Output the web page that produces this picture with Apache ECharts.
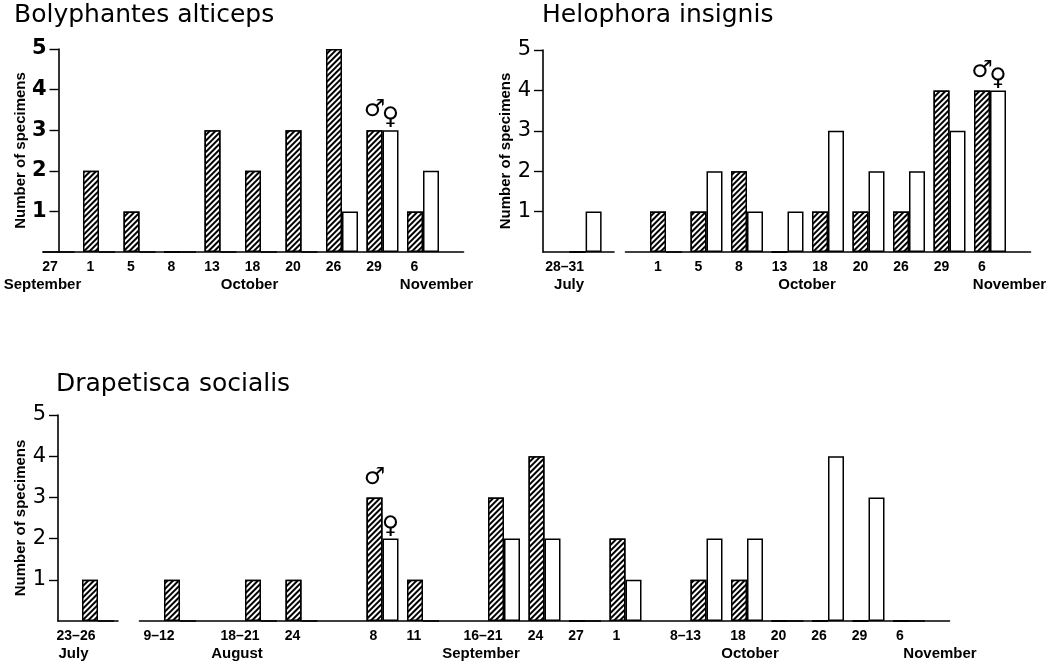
<!DOCTYPE html>
<html><head><meta charset="utf-8">
<script src="https://cdn.jsdelivr.net/npm/echarts@6/dist/echarts.min.js"></script>
<style>html,body{margin:0;padding:0;background:#fff}#c{width:1056px;height:667px}</style>
</head><body><div id="c"></div>
<script>
// ---------------- DATA ----------------
const yTicks = [1, 2, 3, 4, 5];
const yName = "Number of specimens";
const titles = ["Bolyphantes alticeps", "Helophora insignis", "Drapetisca socialis"];

// Bolyphantes alticeps
const bolyDays    = ["27", "1", "5", "8", "13", "18", "20", "26", "29", "6"];
const bolyMonths  = ["September", "", "", "", "", "October", "", "", "", "November"];
const bolyMales   = [0, 2, 1, 0, 3, 2, 3, 5, 3, 1];
const bolyFemales = [0, 0, 0, 0, 0, 0, 0, 1, 3, 2];
const bolySexMark = 8;

// Helophora insignis
const heloJulDays    = ["28–31"];
const heloJulMonths  = ["July"];
const heloJulMales   = [0];
const heloJulFemales = [1];
const heloDays    = ["1", "5", "8", "13", "18", "20", "26", "29", "6"];
const heloMonths  = ["", "", "", "", "October", "", "", "", "November"];
const heloMales   = [1, 1, 2, 0, 1, 1, 1, 4, 4];
const heloFemales = [0, 2, 1, 1, 3, 2, 2, 3, 4];
const heloSexMark = 8;

// Drapetisca socialis
const drapJulDays    = ["23–26"];
const drapJulMonths  = ["July"];
const drapJulMales   = [1];
const drapJulFemales = [0];
const drapDays    = ["9–12", "", "18–21", "24", "", "8", "11", "", "16–21", "24", "27", "1", "", "8–13", "18", "20", "26", "29", "6"];
const drapMonths  = ["", "", "August", "", "", "", "", "", "September", "", "", "", "", "", "October", "", "", "", "November"];
const drapMales   = [1, null, 1, 1, null, 3, 1, null, 3, 4, 0, 2, null, 1, 1, 0, 0, 0, 0];
const drapFemales = [0, null, 0, 0, null, 2, 0, null, 2, 2, 0, 1, null, 2, 2, 0, 4, 3, 0];
const drapSexMark = 5;

// ---------------- STYLE / LAYOUT ----------------
const FONT = 'Liberation Sans';
const hatch = { symbol: 'rect', symbolSize: 1, dashArrayX: [1, 0], dashArrayY: [2, 2],
                rotation: -Math.PI / 4, color: '#000', backgroundColor: '#fff' };

const grids = [], xAxes = [], yAxes = [], series = [];

function pad(arr, before, after, fill) {
  return Array(before).fill(fill).concat(arr, Array(after).fill(fill));
}
function shiftPad(s) { return s < 0 ? [0, -2 * s, 0, 0] : [0, 0, 0, 2 * s]; }

function addGrid(g, days, months, males, females, sexMark, o) {
  const gi = grids.length;
  grids.push({ left: g.left, top: g.top, width: g.width, height: g.height });
  const cats = pad(days, o.before, o.after, '');
  const mons = pad(months, o.before, o.after, '');
  const dayFont = { fontFamily: FONT, fontSize: 14, fontWeight: 'bold', color: '#000' };
  const xi = xAxes.length;
  xAxes.push({
    type: 'category', gridIndex: gi, data: cats, boundaryGap: false, position: 'bottom',
    axisLine: { show: true, onZero: false, lineStyle: { color: '#000', width: 1.6 } },
    axisTick: { show: false }, splitLine: { show: false },
    axisLabel: Object.assign({ interval: 0, margin: 8,
      formatter: v => v ? (v.indexOf('–') >= 0 ? '{r|' + v + '}' : '{d|' + v + '}') : '',
      rich: { d: Object.assign({ padding: shiftPad(o.dayShift) }, dayFont),
              r: Object.assign({ padding: shiftPad(o.rangeShift) }, dayFont) } }, dayFont)
  });
  const monFont = { fontFamily: FONT, fontSize: 15, fontWeight: 'bold', color: '#000' };
  const monRich = {};
  Object.keys(o.monthShift).forEach(k => { monRich[k] = Object.assign({ padding: shiftPad(o.monthShift[k]) }, monFont); });
  xAxes.push({
    type: 'category', gridIndex: gi, data: mons, boundaryGap: false, position: 'bottom',
    axisLine: { show: false, onZero: false }, axisTick: { show: false }, splitLine: { show: false },
    axisLabel: Object.assign({ interval: 0, margin: 25,
      formatter: v => v ? '{' + v + '|' + v + '}' : '', rich: monRich }, monFont)
  });
  yAxes.push({
    type: 'value', gridIndex: gi, min: 0, max: 5, interval: 1, show: o.showY,
    name: o.showY ? yName : '', nameLocation: 'middle', nameGap: 30,
    nameTextStyle: { fontFamily: FONT, fontSize: 15, fontWeight: 'bold', color: '#000' },
    axisLine: { show: true, lineStyle: { color: '#000', width: 1.6 } },
    axisTick: { show: true, length: 9, customValues: yTicks, lineStyle: { color: '#000', width: 1.4 } },
    splitLine: { show: false },
    axisLabel: { customValues: yTicks, margin: 12, fontFamily: 'DejaVu Sans', fontSize: 21,
                 fontWeight: o.yWeight, color: '#000' }
  });
  const markLabel = (sym, dist) => ({ show: true, formatter: sym, position: 'top', distance: dist,
      fontFamily: 'DejaVu Sans', fontSize: 24, color: '#000' });
  const mData = pad(males, o.before, o.after, null).map((v, i) =>
      (sexMark !== null && i === sexMark + o.before) ? { value: v, label: markLabel('♂', 8) } : v);
  const fData = pad(females, o.before, o.after, null).map((v, i) =>
      (sexMark !== null && i === sexMark + o.before) ? { value: v, label: markLabel('♀', 0) } : v);
  const base = { type: 'bar', xAxisIndex: xi, yAxisIndex: gi, barWidth: 16, barGap: '0%', silent: true };
  series.push(Object.assign({ name: 'male', data: mData,
    itemStyle: { color: '#fff', borderColor: '#000', borderWidth: 1.5, decal: hatch } }, base));
  series.push(Object.assign({ name: 'female', data: fData,
    itemStyle: { color: '#fff', borderColor: '#000', borderWidth: 1.5 } }, base));
}

// Panel 1
addGrid({ left: 58.5, top: 49, width: 405, height: 203 }, bolyDays, bolyMonths, bolyMales, bolyFemales, bolySexMark,
  { before: 0, after: 1, showY: true, yWeight: 'bold', dayShift: -8.5, rangeShift: -21,
    monthShift: { September: -16, October: -11.5, November: 13.5 } });
// Panel 2
addGrid({ left: 543, top: 50, width: 71, height: 202 }, heloJulDays, heloJulMonths, heloJulMales, heloJulFemales, null,
  { before: 3, after: 2, showY: true, yWeight: 'normal', dayShift: -9, rangeShift: -21,
    monthShift: { July: -16.5 } });
addGrid({ left: 625.5, top: 50, width: 405, height: 202 }, heloDays, heloMonths, heloMales, heloFemales, heloSexMark,
  { before: 1, after: 1, showY: false, yWeight: 'normal', dayShift: -8, rangeShift: -21,
    monthShift: { October: -21, November: 19.5 } });
// Panel 3
addGrid({ left: 58, top: 415, width: 60, height: 206 }, drapJulDays, drapJulMonths, drapJulMales, drapJulFemales, null,
  { before: 2, after: 1, showY: true, yWeight: 'normal', dayShift: -9, rangeShift: -22,
    monthShift: { July: -24.5 } });
addGrid({ left: 139.5, top: 415, width: 810, height: 206 }, drapDays, drapMonths, drapMales, drapFemales, drapSexMark,
  { before: 1, after: 1, showY: false, yWeight: 'normal', dayShift: -9, rangeShift: -21,
    monthShift: { August: -24, September: -23, October: 3, November: 31 } });

const titleStyle = { fontFamily: 'DejaVu Sans', fontSize: 25, fontWeight: 'normal', color: '#000' };
const option = {
  animation: false,
  backgroundColor: '#fff',
  title: [
    { text: titles[0], left: 14, top: 3, padding: 0, textStyle: titleStyle },
    { text: titles[1], left: 542, top: 3, padding: 0, textStyle: titleStyle },
    { text: titles[2], left: 56, top: 372, padding: 0, textStyle: titleStyle }
  ],
  grid: grids, xAxis: xAxes, yAxis: yAxes, series: series
};
const chart = echarts.init(document.getElementById('c'), null, { renderer: 'canvas' });
chart.setOption(option);
</script></body></html>
